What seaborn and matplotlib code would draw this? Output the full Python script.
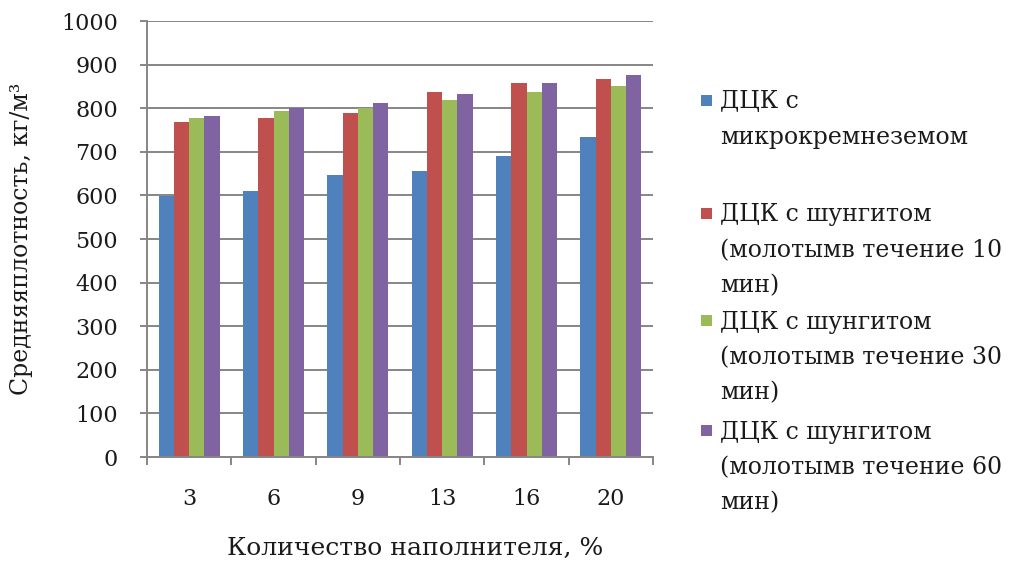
import matplotlib
matplotlib.use("Agg")
import matplotlib.pyplot as plt
from matplotlib.patches import Rectangle
from matplotlib.ticker import FixedLocator
import pandas as pd
import seaborn as sns

# Filler content, % (x categories)
filler_pct = ["3", "6", "9", "13", "16", "20"]

# Average density, kg/m3, per series
microsilica = [598, 611, 646, 656, 690, 734]
shungite_10 = [769, 778, 788, 837, 857, 866]
shungite_30 = [778, 793, 800, 818, 837, 851]
shungite_60 = [782, 801, 813, 832, 857, 876]

series_labels = [
    "ДЦК с\nмикрокремнеземом",
    "ДЦК с шунгитом\n(молотымв течение 10\nмин)",
    "ДЦК с шунгитом\n(молотымв течение 30\nмин)",
    "ДЦК с шунгитом\n(молотымв течение 60\nмин)",
]
series_colors = ["#4F81BD", "#C0504D", "#9BBB59", "#8064A2"]
y_ticks = list(range(0, 1001, 100))

x_title = "Количество наполнителя, %"
y_title = "Средняяплотность, кг/м³"

# Long-form table for seaborn
frames = []
for label, values in zip(series_labels,
                         [microsilica, shungite_10, shungite_30, shungite_60]):
    frames.append(pd.DataFrame({"filler": filler_pct, "density": values,
                                "series": label}))
data = pd.concat(frames, ignore_index=True)

sns.set_theme(style="white")
plt.rcParams["font.family"] = ["DejaVu Serif", "DejaVu Sans"]

W, H = 1013, 567
fig = plt.figure(figsize=(W / 100, H / 100), dpi=100)
ax = fig.add_axes([147 / W, 1 - 457 / H, (653 - 147) / W, (457 - 21) / H])

sns.barplot(data=data, x="filler", y="density", hue="series",
            order=filler_pct, hue_order=series_labels,
            palette=series_colors, width=0.72, gap=0,
            saturation=1, edgecolor="none", legend=False, ax=ax)

axis_grey = "#868686"
text_color = "#1a1a1a"
ax.set_ylim(0, 1000)
ax.set_xlim(-0.5, len(filler_pct) - 0.5)
ax.yaxis.set_major_locator(FixedLocator(y_ticks))
ax.yaxis.grid(True, color=axis_grey, linewidth=1.4)
ax.xaxis.grid(False)
ax.set_axisbelow(True)

for side in ("top", "right"):
    ax.spines[side].set_visible(False)
for side in ("left", "bottom"):
    ax.spines[side].set_color(axis_grey)
    ax.spines[side].set_linewidth(1.4)

# Category labels at group centres, tick marks at group boundaries
ax.xaxis.set_minor_locator(FixedLocator([i - 0.5 for i in range(len(filler_pct) + 1)]))
ax.tick_params(axis="x", which="major", length=0, pad=22, labelsize=16,
               labelcolor=text_color)
ax.tick_params(axis="x", which="minor", length=6, width=1.4, color=axis_grey,
               direction="out", bottom=True)
ax.tick_params(axis="y", which="major", length=5, width=1.4, color=axis_grey,
               direction="out", left=True, pad=16, labelsize=16,
               labelcolor=text_color)

ax.set_xlabel(x_title, fontsize=18, color=text_color)
ax.set_ylabel(y_title, fontsize=17, color=text_color)
ax.xaxis.set_label_coords((415 - 147) / 506, (457 - 537) / 436)
ax.yaxis.set_label_coords((33 - 147) / 506, 0.5)
ax.xaxis.label.set_verticalalignment("top")

# Legend on the right: colour square beside the first line of each label
entry_centres = [100, 213, 320, 430]
for label, color, yc in zip(series_labels, series_colors, entry_centres):
    fig.patches.append(Rectangle((701 / W, 1 - (yc + 5.5) / H), 11 / W, 11 / H,
                                 transform=fig.transFigure, facecolor=color,
                                 edgecolor="none"))
    fig.text(720 / W, 1 - (yc - 9.5) / H, label, fontsize=17, color=text_color,
             ha="left", va="top", linespacing=1.69)

fig.savefig("out.png", dpi=100)
